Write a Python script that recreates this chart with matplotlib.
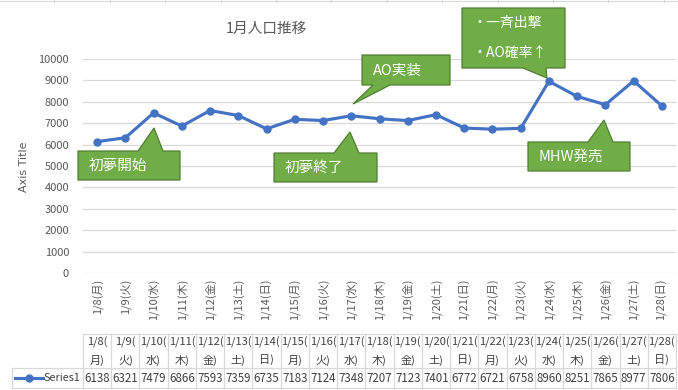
import matplotlib
matplotlib.use("Agg")
import matplotlib.pyplot as plt
from matplotlib import transforms
from matplotlib.patches import Polygon

plt.rcParams['font.family'] = ['Noto Sans CJK JP', 'DejaVu Sans']

# データ
dates = ["1/8", "1/9", "1/10", "1/11", "1/12", "1/13", "1/14", "1/15", "1/16", "1/17", "1/18",
         "1/19", "1/20", "1/21", "1/22", "1/23", "1/24", "1/25", "1/26", "1/27", "1/28"]
weekdays = ["月", "火", "水", "木", "金", "土", "日", "月", "火", "水", "木",
            "金", "土", "日", "月", "火", "水", "木", "金", "土", "日"]
population = [6138, 6321, 7479, 6866, 7593, 7359, 6735, 7183, 7124, 7348, 7207,
              7123, 7401, 6772, 6721, 6758, 8960, 8251, 7865, 8977, 7806]
series_name = "Series1"
title = "1月人口推移"
yticks = list(range(0, 10001, 1000))

# 吹き出し: (テキスト行, 箱 x0,y0,x1,y1 [px], 付け根 b0,b1, 辺, 先端)
callouts = [
    (["初夢開始"], (78, 151, 180, 180), (138, 163), "top", (154, 128)),
    (["初夢終了"], (274, 153, 377, 182), (334, 359), "top", (350, 132)),
    (["AO実装"], (362, 55, 450, 85), (373, 390), "bottom", (353, 104)),
    (["・一斉出撃", "・AO確率↑"], (462, 8, 565, 68), (523, 546), "bottom", (547, 78)),
    (["MHW発売"], (528, 142, 630, 171), (588, 613), "top", (604, 120)),
]

W, H = 678, 390
fig = plt.figure(figsize=(W / 100, H / 100), dpi=100)
px = transforms.Affine2D().scale(1 / W, -1 / H).translate(0, 1) + fig.transFigure

ax = fig.add_axes([83 / W, (H - 273) / H, (676 - 83) / W, (273 - 59) / H])
x = list(range(len(population)))
ax.plot(x, population, color='#4472C4', lw=2.25, marker='o', ms=5, zorder=3)
ax.set_xlim(-0.5, len(x) - 0.5)
ax.set_ylim(0, 10000)
ax.set_yticks(yticks)
ax.tick_params(axis='y', length=0, labelsize=8, labelcolor='#595959', pad=10)
ax.set_xticks(x)
ax.set_xticklabels([f"{d}({w})" for d, w in zip(dates, weekdays)], rotation=90,
                   fontsize=8, color='#595959')
ax.tick_params(axis='x', length=0, pad=4)
ax.grid(axis='y', color='#D9D9D9', lw=0.9)
for s in ax.spines.values():
    s.set_visible(False)
ax.set_axisbelow(True)

fig.text(266 / W, 1 - 29 / H, title, ha='center', va='center', fontsize=10.5, color='#595959')
fig.text(24 / W, 1 - 167 / H, "Axis Title", rotation=90, ha='center', va='center',
         fontsize=8, color='#595959', family=['DejaVu Sans'])

# 吹き出し
for lines, (x0, y0, x1, y1), (b0, b1), edge, tip in callouts:
    if edge == "top":
        verts = [(x0, y0), (b0, y0), tip, (b1, y0), (x1, y0), (x1, y1), (x0, y1)]
    else:
        verts = [(x0, y0), (x1, y0), (x1, y1), (b1, y1), tip, (b0, y1), (x0, y1)]
    fig.patches.append(Polygon(verts, closed=True, transform=px, facecolor='#70AD47',
                               edgecolor='#507E32', lw=0.9, zorder=5))
    n = len(lines)
    step = (y1 - y0) / n
    for i, t in enumerate(lines):
        fig.text(x0 + 11, y0 + step * (i + 0.5), t, transform=px, ha='left', va='center',
                 fontsize=10.5 if n == 1 else 10, color='white', zorder=6)

# データテーブル
tb = transforms.blended_transform_factory(ax.transData, px)
grid_kw = dict(color='#D9D9D9', lw=0.9, clip_on=False)
edges = [i - 0.5 for i in range(len(x) + 1)]
fig.add_artist(plt.Line2D([edges[0], edges[-1]], [334, 334], transform=tb, **grid_kw))
fig.add_artist(plt.Line2D([12, 676], [368, 368], transform=px, **grid_kw))
fig.add_artist(plt.Line2D([12, 676], [388, 388], transform=px, **grid_kw))
fig.add_artist(plt.Line2D([12, 12], [368, 388], transform=px, **grid_kw))
for e in edges:
    fig.add_artist(plt.Line2D([e, e], [334, 388], transform=tb, **grid_kw))
for i, (d, w, v) in enumerate(zip(dates, weekdays, population)):
    fig.text(i, 342, d + "(", transform=tb, ha='center', va='center', fontsize=8, color='#404040')
    fig.text(i, 360, w + ")", transform=tb, ha='center', va='center', fontsize=8, color='#404040')
    fig.text(i, 378, str(v), transform=tb, ha='center', va='center', fontsize=8.3, color='#404040')

# 凡例キー
fig.add_artist(plt.Line2D([15, 29, 43], [378, 378, 378], transform=px, color='#4472C4',
                          lw=2.25, marker='o', markevery=[1], ms=5))
fig.text(44, 378, series_name, transform=px, ha='left', va='center', fontsize=7.8,
         color='#404040')

# シートの枠線
fig.add_artist(plt.Line2D([0, W], [1, 1], transform=px, color='#D9D9D9', lw=0.8))
for k in range(1, 13):
    fig.add_artist(plt.Line2D([k * 55.4 - 1, k * 55.4 - 1], [0, 2], transform=px,
                              color='#D9D9D9', lw=0.8))

fig.savefig('out.png', dpi=100)
